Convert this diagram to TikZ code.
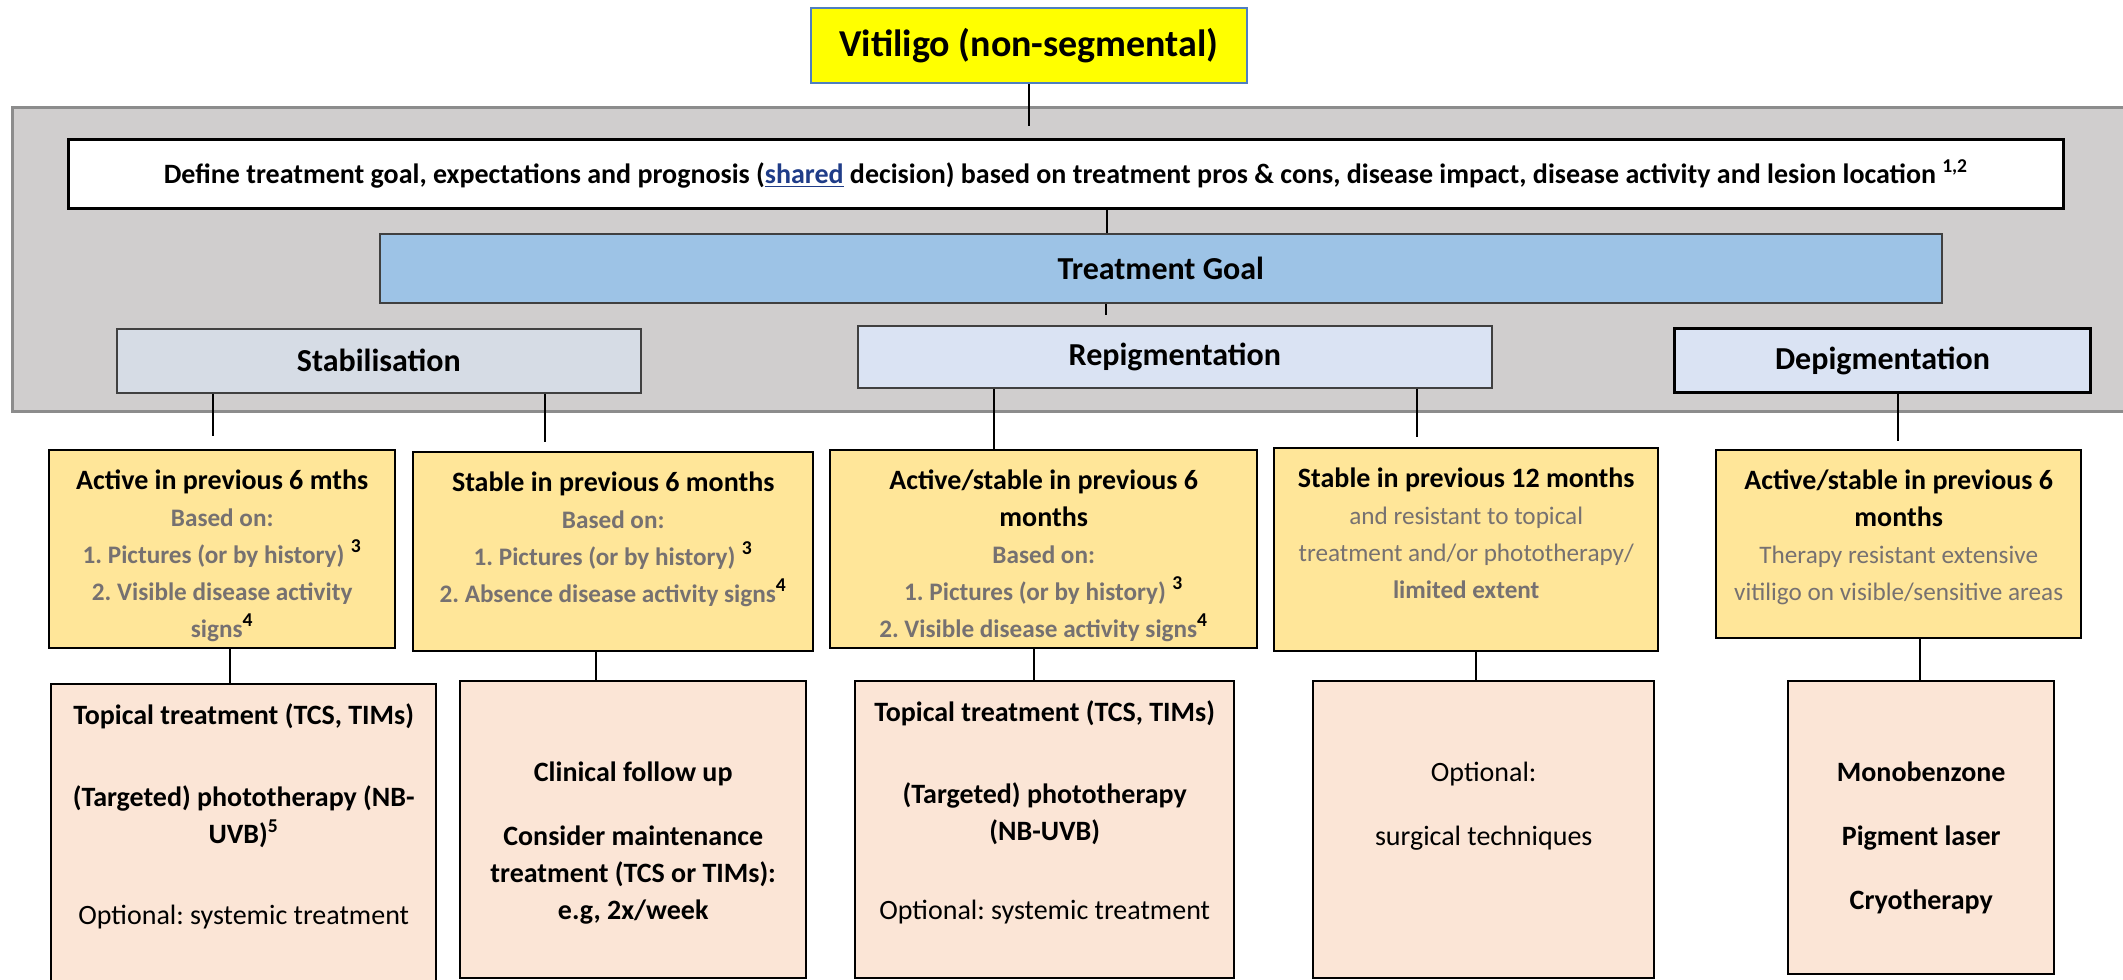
\documentclass[tikz,border=0pt]{standalone}
\usepackage{fontspec}
\setmainfont{Carlito}
\usetikzlibrary{positioning}
\frenchspacing
\definecolor{titleyellow}{HTML}{FFFF00}
\definecolor{titleedge}{HTML}{4F7FC0}
\definecolor{panelgray}{HTML}{D0CECE}
\definecolor{paneledge}{HTML}{8C8C8C}
\definecolor{goalblue}{HTML}{9DC3E6}
\definecolor{stabblue}{HTML}{D6DCE5}
\definecolor{repblue}{HTML}{DAE3F3}
\definecolor{crityellow}{HTML}{FFE699}
\definecolor{txpeach}{HTML}{FBE5D6}
\definecolor{notegray}{HTML}{767171}
\definecolor{linkblue}{HTML}{1F3C88}
\newcommand{\dimbf}[1]{{\fontsize{12.6}{18.5}\selectfont\textcolor{notegray}{\textbf{#1}}}}
\newcommand{\dimtxt}[1]{{\fontsize{12.6}{18.5}\selectfont\textcolor{notegray}{#1}}}
\newcommand{\boxlines}[1]{\begin{tabular}[t]{@{}c@{}}#1\end{tabular}}
\tikzset{
  box/.style={draw, anchor=north west, inner sep=0pt},
  goalbox/.style={box, line width=0.8pt, draw=black!75, font=\bfseries\fontsize{16}{19}\selectfont},
  critbox/.style={box, fill=crityellow, line width=1.2pt, text height=19.5pt, font=\fontsize{14}{18.5}\selectfont},
  txbox/.style={box, fill=txpeach, line width=1.2pt, font=\fontsize{14}{18.5}\selectfont},
  link/.style={line width=1.3pt},
}
\begin{document}
\begin{tikzpicture}[x=0.5pt, y=-0.5pt]
  \useasboundingbox (0,0) rectangle (2123,979);
  % grey band holding the goal levels
  \node[box, fill=panelgray, draw=paneledge, line width=1.5pt, minimum width=1065pt, minimum height=152pt] (panel) at (11,106) {};
  \node[box, fill=titleyellow, draw=titleedge, line width=1pt, minimum width=218pt, minimum height=37.5pt, font=\bfseries\fontsize{19}{22}\selectfont] (title) at (810,7) {Vitiligo (non-segmental)};
  \node[box, fill=white, line width=1.5pt, minimum width=997.5pt, minimum height=34.5pt, font=\bfseries\fontsize{14}{16}\selectfont] (define) at (67,138)
    {Define treatment goal, expectations and prognosis (\textcolor{linkblue}{\underline{shared}} decision) based on treatment pros \& cons, disease impact, disease activity and lesion location \textsuperscript{1,2}};
  \node[goalbox, fill=goalblue, minimum width=781pt, minimum height=34.5pt] (goal) at (379,233) {Treatment Goal};
  \node[goalbox, fill=stabblue, minimum width=262pt, minimum height=32pt] (stab) at (116,328) {Stabilisation};
  \node[goalbox, fill=repblue, minimum width=317pt, minimum height=31pt] (repig) at (857,325) {Repigmentation};
  \node[goalbox, fill=repblue, draw=black, line width=1.5pt, minimum width=208pt, minimum height=32pt] (depig) at (1673,327) {Depigmentation};
  % disease activity
  \node[critbox, minimum width=173pt, text depth=79.5pt] (stabactive) at (48,449)
    {\boxlines{\textbf{Active in previous 6 mths}\\ \dimbf{Based on:}\\ \dimbf{1. Pictures (or by history)} \textbf{\textsuperscript{3}}\\ \dimbf{2. Visible disease activity}\\ \dimbf{signs}\textbf{\textsuperscript{4}}}};
  \node[critbox, minimum width=200pt, text depth=80pt] (stabstable) at (412,451)
    {\boxlines{\textbf{Stable in previous 6 months}\\ \dimbf{Based on:}\\ \dimbf{1. Pictures (or by history)} \textbf{\textsuperscript{3}}\\ \dimbf{2. Absence disease activity signs}\textbf{\textsuperscript{4}}}};
  \node[critbox, minimum width=213.5pt, text depth=79.5pt] (repactive) at (829,449)
    {\boxlines{\textbf{Active/stable in previous 6}\\ \textbf{months}\\ \dimbf{Based on:}\\ \dimbf{1. Pictures (or by history)} \textbf{\textsuperscript{3}}\\ \dimbf{2. Visible disease activity signs}\textbf{\textsuperscript{4}}}};
  \node[critbox, minimum width=192pt, text depth=82pt] (repstable) at (1273,447)
    {\boxlines{\textbf{Stable in previous 12 months}\\ \dimtxt{and resistant to topical}\\ \dimtxt{treatment and/or phototherapy/}\\ \dimbf{limited extent}}};
  \node[critbox, minimum width=182.5pt, text depth=74.5pt] (depactive) at (1715,449)
    {\boxlines{\textbf{Active/stable in previous 6}\\ \textbf{months}\\ \dimtxt{Therapy resistant extensive}\\ \dimtxt{vitiligo on visible/sensitive areas}}};
  % treatment options
  \node[txbox, minimum width=192.5pt, text height=20pt, text depth=133.5pt] (txactive) at (50,683)
    {\boxlines{\textbf{Topical treatment (TCS, TIMs)}\\[22.5pt] \textbf{(Targeted) phototherapy (NB-}\\ \textbf{UVB)\textsuperscript{5}}\\[22pt] Optional: systemic treatment}};
  \node[txbox, minimum width=173pt, text height=50pt, text depth=98.5pt] (txstable) at (459,680)
    {\boxlines{\textbf{Clinical follow up}\\[13.5pt] \textbf{Consider maintenance}\\ \textbf{treatment (TCS or TIMs):}\\ \textbf{e.g, 2x/week}}};
  \node[txbox, minimum width=189.5pt, text height=20pt, text depth=128.5pt] (txrep) at (854,680)
    {\boxlines{\textbf{Topical treatment (TCS, TIMs)}\\[22.5pt] \textbf{(Targeted) phototherapy}\\ \textbf{(NB-UVB)}\\[21pt] Optional: systemic treatment}};
  \node[txbox, minimum width=170.5pt, text height=50pt, text depth=98.5pt] (txsurg) at (1312,680)
    {\boxlines{Optional:\\[13.5pt] surgical techniques}};
  \node[txbox, minimum width=133pt, text height=50pt, text depth=96.5pt] (txdep) at (1787,680)
    {\boxlines{\textbf{Monobenzone}\\[13.5pt] \textbf{Pigment laser}\\[13.5pt] \textbf{Cryotherapy}}};
  % connectors, x in px
  \foreach \a/\b/\x/\g in {title/define/1029/6pt, define/goal/1107/0pt, goal/repig/1106/5pt,
      stab/stabactive/213/6.5pt, stab/stabstable/545/4.5pt, repig/repactive/994/0pt, repig/repstable/1417/5pt, depig/depactive/1898/4pt,
      stabactive/txactive/230/0pt, stabstable/txstable/596/0pt, repactive/txrep/1034/0pt, repstable/txsurg/1476/0pt, depactive/txdep/1920/0pt}
    \draw[link, shorten >=\g] (\a.south -| \x,0) -- (\b.north -| \x,0);
\end{tikzpicture}
\end{document}
